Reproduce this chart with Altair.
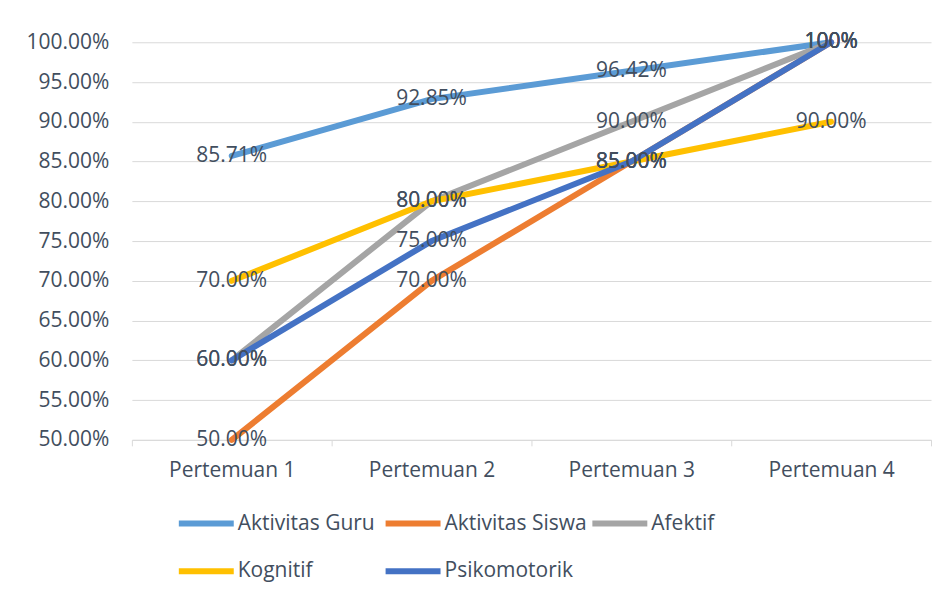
import altair as alt
import pandas as pd

categories = ["Pertemuan 1", "Pertemuan 2", "Pertemuan 3", "Pertemuan 4"]
series = ["Aktivitas Guru", "Aktivitas Siswa", "Afektif", "Kognitif", "Psikomotorik"]
aktivitas_guru = [0.8571, 0.9285, 0.9642, 1.00]
aktivitas_siswa = [0.50, 0.70, 0.85, 1.00]
afektif = [0.60, 0.80, 0.90, 1.00]
kognitif = [0.70, 0.80, 0.85, 0.90]
psikomotorik = [0.60, 0.75, 0.85, 1.00]
colors = ["#5B9BD5", "#ED7D31", "#A5A5A5", "#FFC000", "#4472C4"]
y_ticks = [0.50, 0.55, 0.60, 0.65, 0.70, 0.75, 0.80, 0.85, 0.90, 0.95, 1.00]

values = [aktivitas_guru, aktivitas_siswa, afektif, kognitif, psikomotorik]
rows = []
for s, vals in zip(series, values):
    for c, v in zip(categories, vals):
        label = "100%" if v >= 1.0 else f"{v * 100:.2f}%"
        rows.append({"Seri": s, "Pertemuan": c, "Nilai": v, "Label": label})
df = pd.DataFrame(rows)

TEXT = "#424E5E"
GRID = "#D9D9D9"
FS = 21

base = alt.Chart(df).encode(
    x=alt.X(
        "Pertemuan:N",
        sort=categories,
        scale=alt.Scale(type="band", paddingInner=0, paddingOuter=0),
        axis=alt.Axis(
            title=None, labelAngle=0, tickBand="extent", domainColor=GRID,
            tickColor=GRID, tickSize=6, labelPadding=14, labelFontSize=FS,
            labelColor=TEXT, grid=False,
        ),
    ),
    y=alt.Y(
        "Nilai:Q",
        scale=alt.Scale(domain=[0.5, 1.0], nice=False, zero=False),
        axis=alt.Axis(
            title=None, values=y_ticks, format=".2%", domain=False, ticks=False,
            gridColor=GRID, gridWidth=1, labelPadding=23, labelFontSize=FS,
            labelColor=TEXT,
        ),
    ),
)

lines = base.mark_line(strokeWidth=6, strokeCap="round", strokeJoin="round").encode(
    color=alt.Color(
        "Seri:N",
        sort=series,
        scale=alt.Scale(domain=series, range=colors),
        legend=alt.Legend(
            title=None, orient="none", legendX=44, legendY=451, columns=3,
            direction="horizontal", symbolType="stroke", symbolSize=3025,
            symbolStrokeWidth=6, labelFontSize=FS, labelColor=TEXT,
            labelOffset=1, columnPadding=-7, rowPadding=5, gridAlign="all",
            labelLimit=300,
        ),
    ),
)

labels = base.mark_text(fontSize=FS, color=TEXT, align="center", baseline="middle").encode(
    text="Label:N",
)

chart = (
    alt.layer(lines, labels)
    .properties(
        width=800, height=398,
        autosize=alt.AutoSizeParams(type="none"),
        padding={"left": 124, "top": 34, "right": 10, "bottom": 150},
    )
    .configure(font="Open Sans")
    .configure_view(stroke=None)
)

chart.save("out.html", embed_options={"renderer": "svg", "actions": False})
